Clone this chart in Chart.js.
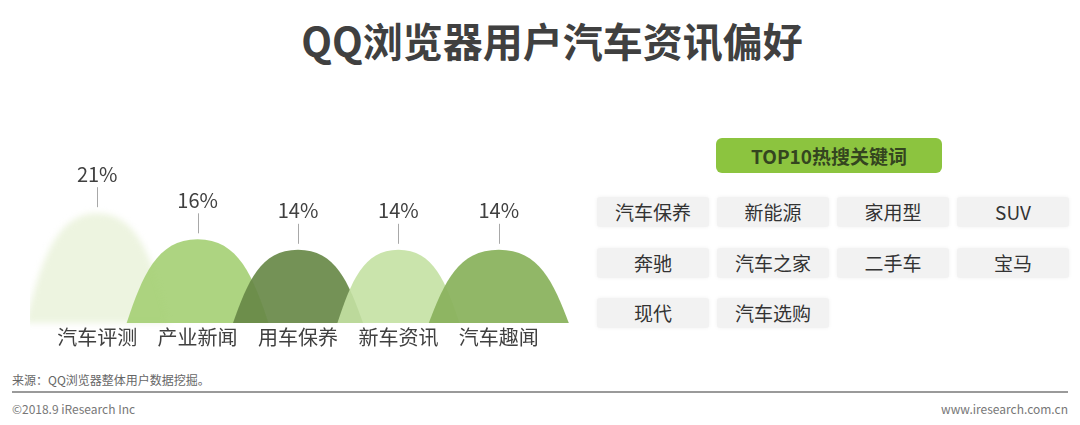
<!DOCTYPE html>
<html>
<head>
<meta charset="utf-8">
<script src="https://cdn.jsdelivr.net/npm/chart.js@4"></script>
<style>
  body { margin: 0; width: 1080px; height: 425px; background: #fff; position: relative; overflow: hidden;
         font-family: "Noto Sans CJK SC", "Noto Sans", sans-serif; }
  #title { position: absolute; left: 0; top: 15px; width: 1104px; text-align: center;
           font-size: 40px; font-weight: bold; color: #404040; line-height: 50px; }
  #chartBox { position: absolute; left: 30px; top: 120px; width: 560px; height: 244px; }
  #kwHead { position: absolute; left: 716px; top: 138px; width: 226px; height: 35px; border-radius: 6px;
            background: #8cc43f; color: #34451f; font-weight: bold; font-size: 19px;
            line-height: 35px; text-align: center; }
  .kw { position: absolute; width: 112px; height: 30px; line-height: 30px; text-align: center;
        background: #f2f2f2; border-radius: 3px; box-shadow: 0 0 4px rgba(0,0,0,0.06);
        font-size: 19px; color: #333; }
  #source { position: absolute; left: 12px; top: 371px; font-size: 12px; color: #666; }
  #rule { position: absolute; left: 12px; top: 391px; width: 1056px; height: 2px; background: #9a9a9a; }
  #copy { position: absolute; left: 12px; top: 400px; font-size: 12px; color: #777; }
  #site { position: absolute; right: 12px; top: 400px; font-size: 12px; color: #777; }
</style>
</head>
<body>
<div id="title">QQ浏览器用户汽车资讯偏好</div>
<div id="chartBox"><canvas id="c1" width="560" height="244"></canvas></div>
<div id="kwHead">TOP10热搜关键词</div>
<div id="kwGrid"></div>
<div id="source">来源：QQ浏览器整体用户数据挖掘。</div>
<div id="rule"></div>
<div id="copy">©2018.9 iResearch Inc</div>
<div id="site">www.iresearch.com.cn</div>

<script>
// --- DATA --- //
const categories = ["汽车评测", "产业新闻", "用车保养", "新车资讯", "汽车趣闻"];
const shareValues = [21, 16, 14, 14, 14]; // %
const hotKeywords = ["汽车保养", "新能源", "家用型", "SUV", "奔驰", "汽车之家", "二手车", "宝马", "现代", "汽车选购"];

// --- STYLE --- //
const mountainColors = [
  "rgba(236, 243, 222, 0.95)",
  "rgba(166, 208, 118, 0.92)",
  "rgba(104, 137, 72, 0.92)",
  "rgba(196, 225, 163, 0.9)",
  "rgba(138, 178, 94, 0.94)",
];
const mountainHalfWidths = [72, 71, 65, 61, 70];
const mountainBlur = [3, 0, 0, 0, 0];

// keyword boxes (4 columns)
const grid = document.getElementById("kwGrid");
hotKeywords.forEach((k, i) => {
  const d = document.createElement("div");
  d.className = "kw";
  d.textContent = k;
  d.style.left = (597 + (i % 4) * 120) + "px";
  d.style.top = (197 + Math.floor(i / 4) * 50.5) + "px";
  grid.appendChild(d);
});

// draws each bar as a rounded mountain + leader line and value label
const mountainPlugin = {
  id: "mountains",
  afterDatasetsDraw(chart) {
    const ctx = chart.ctx;
    const meta = chart.getDatasetMeta(0);
    meta.data.forEach((el, i) => {
      const cx = el.x, top = el.y, base = el.base;
      const h = base - top, w = mountainHalfWidths[i];
      ctx.save();
      if (mountainBlur[i]) ctx.filter = "blur(" + mountainBlur[i] + "px)";
      ctx.fillStyle = mountainColors[i];
      ctx.beginPath();
      ctx.moveTo(cx - w, base);
      ctx.bezierCurveTo(cx - w * 0.78, base - h * 0.55, cx - w * 0.58, top, cx, top);
      ctx.bezierCurveTo(cx + w * 0.58, top, cx + w * 0.78, base - h * 0.55, cx + w, base);
      ctx.closePath();
      ctx.fill();
      ctx.restore();
    });
    // labels on top
    meta.data.forEach((el, i) => {
      ctx.save();
      ctx.strokeStyle = "#a8a8a8";
      ctx.lineWidth = 1;
      ctx.beginPath();
      ctx.moveTo(Math.round(el.x) + 0.5, el.y - 6);
      ctx.lineTo(Math.round(el.x) + 0.5, el.y - 26);
      ctx.stroke();
      ctx.fillStyle = "#404040";
      ctx.font = '20px "Noto Sans CJK SC"';
      ctx.textAlign = "center";
      ctx.textBaseline = "middle";
      ctx.fillText(shareValues[i] + "%", el.x, el.y - 39);
      ctx.restore();
    });
  },
};

new Chart(document.getElementById("c1"), {
  type: "bar",
  data: {
    labels: categories,
    datasets: [
      {
        data: shareValues,
        backgroundColor: "rgba(0,0,0,0)",
      },
    ],
  },
  options: {
    responsive: false,
    animation: false,
    layout: { padding: { top: 20, left: 17, right: 41, bottom: 13 } },
    plugins: { legend: { display: false }, tooltip: { enabled: false } },
    scales: {
      x: {
        grid: { display: false, drawTicks: false },
        border: { display: false },
        ticks: { padding: 2, color: "#404040", font: { size: 20, family: '"Noto Sans CJK SC"' } },
      },
      y: { display: false, min: 0, max: 35 },
    },
  },
  plugins: [mountainPlugin],
});
</script>
</body>
</html>
